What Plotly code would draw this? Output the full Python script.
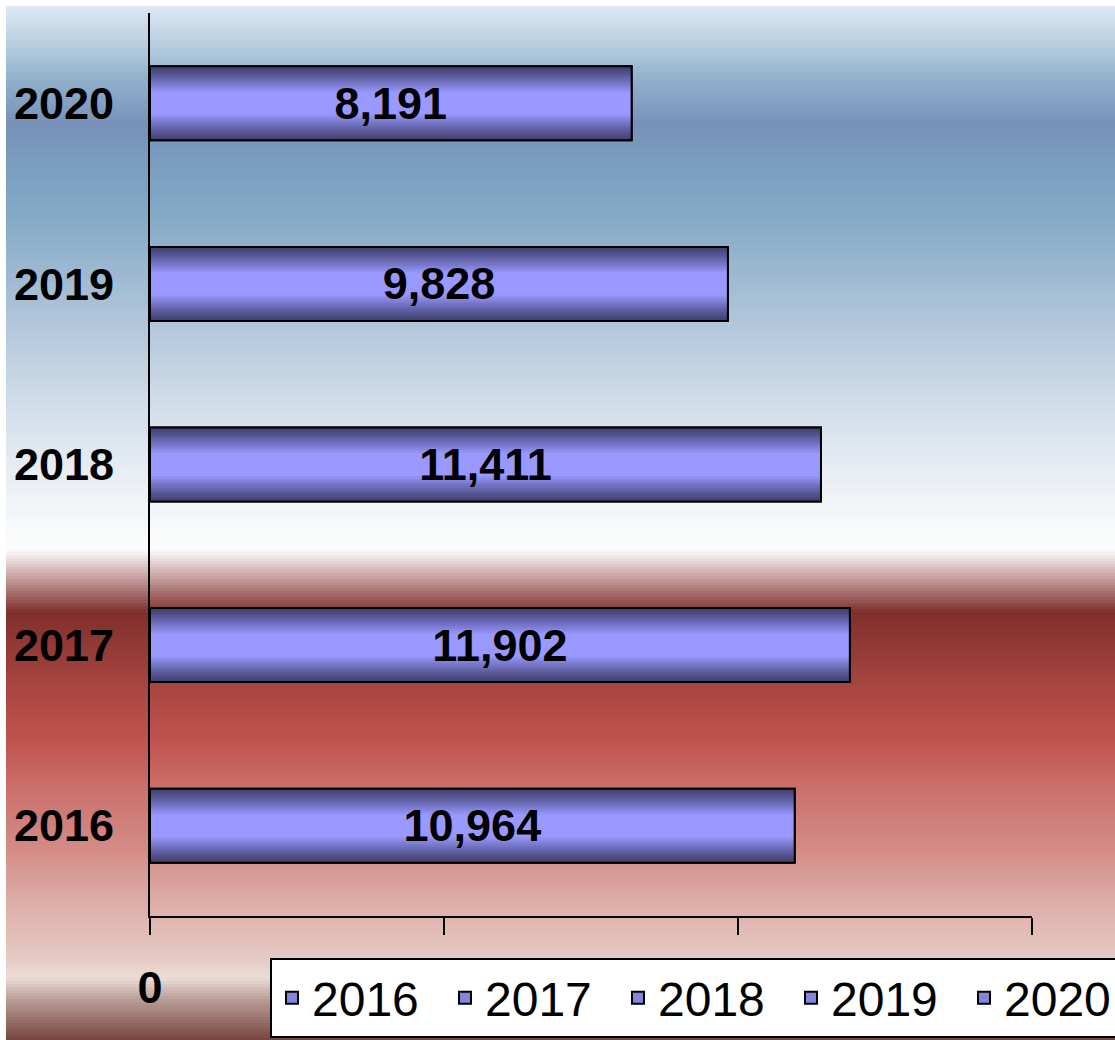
import plotly.graph_objects as go

# ---- data ----
categories = ["2016", "2017", "2018", "2019", "2020"]
values = [10964, 11902, 11411, 9828, 8191]
x_tick_values = [0, 5000, 10000, 15000]
x_tick_labels = ["0", "", "", ""]   # other labels are hidden behind the legend in the original

# ---- geometry / style ----
W, H = 1115, 1040
PLOT_L, PLOT_R, PLOT_T, PLOT_B = 150, 1032, 13, 916  # screenshot pixels (body margin removed)
ML, MT = PLOT_L, PLOT_T
MR, MB = W - PLOT_R, H - PLOT_B
PW, PH = PLOT_R - PLOT_L, PLOT_B - PLOT_T
FONT = "Liberation Sans, Arial, sans-serif"
BAR_W = 0.41
N_LAYERS = 16
DARK = (66, 66, 116)
LIGHT = (153, 153, 255)


def px_to_paper_x(px):
    return (px - PLOT_L) / PW


def px_to_paper_y(py):
    return (PLOT_B - py) / PH


def hex_rgb(h):
    h = h.lstrip("#")
    return tuple(int(h[i:i + 2], 16) for i in (0, 2, 4))


def mix(c1, c2, t):
    return tuple(round(a + (b - a) * t) for a, b in zip(c1, c2))


def rgb_str(c):
    return "rgb(%d,%d,%d)" % c


# background gradient stops (screenshot pixel y, colour) -- styling only
bg_stops = [
    (6, "#dde9f5"), (40, "#bcd1e2"), (80, "#90b0cb"), (125, "#7790b8"),
    (165, "#7b9ebf"), (210, "#82a8c4"), (270, "#9bb8d0"), (330, "#b4c8dc"),
    (400, "#cfdce8"), (470, "#e8edf4"), (548, "#fcfdfd"), (554, "#f6eeee"),
    (612, "#7f2f2c"), (680, "#a4443f"), (740, "#c0524e"), (790, "#cb716d"),
    (850, "#d48c87"), (900, "#dcaca6"), (960, "#e6cbc5"), (978, "#ecdcd6"),
    (1000, "#b89c95"), (1040, "#764640"),
]


def bg_color(py):
    for (y0, c0), (y1, c1) in zip(bg_stops[:-1], bg_stops[1:]):
        if y0 <= py <= y1:
            t = (py - y0) / (y1 - y0) if y1 > y0 else 0
            return mix(hex_rgb(c0), hex_rgb(c1), t)
    return hex_rgb(bg_stops[-1][1])


shapes = []
step = 3
py = 6
while py < H + 8:
    c = bg_color(py + step / 2)
    shapes.append(dict(
        type="rect", xref="paper", yref="paper", layer="below",
        x0=px_to_paper_x(6), x1=px_to_paper_x(W + 20),
        y0=px_to_paper_y(py + step + 0.6), y1=px_to_paper_y(py),
        fillcolor=rgb_str(c), line=dict(width=0),
    ))
    py += step

fig = go.Figure()

# legend-bearing base bars (one per year)
for cat, val in zip(categories, values):
    fig.add_trace(go.Bar(
        y=[cat], x=[val], orientation="h", name=cat, width=BAR_W,
        marker=dict(color="#8585e0", line=dict(color="black", width=2)),
        hoverinfo="skip", legendgroup=cat,
    ))

# gradient layers (same data, narrower and lighter towards the centre)
for k in range(N_LAYERS):
    t = min(1.0, k / (N_LAYERS * 0.68))
    t = t ** 1.15
    fig.add_trace(go.Bar(
        y=categories, x=values, orientation="h", width=BAR_W * (1 - k / N_LAYERS),
        marker=dict(color=rgb_str(mix(DARK, LIGHT, t)), line=dict(width=0)),
        showlegend=False, hoverinfo="skip",
    ))

# outline + data labels
fig.add_trace(go.Bar(
    y=categories, x=values, orientation="h", width=BAR_W,
    marker=dict(color="rgba(0,0,0,0)", line=dict(color="black", width=2)),
    text=[f"{v:,}" for v in values], textposition="inside",
    insidetextanchor="middle", constraintext="none",
    textfont=dict(family=FONT, size=45, color="black", weight="bold"),
    showlegend=False, hoverinfo="skip",
))

fig.update_layout(
    width=W, height=H,
    margin=dict(l=ML, r=MR, t=MT, b=MB, autoexpand=False),
    paper_bgcolor="white", plot_bgcolor="rgba(0,0,0,0)",
    barmode="overlay",
    shapes=shapes,
    font=dict(family=FONT, color="black"),
    xaxis=dict(
        range=[0, 15000], showgrid=False, zeroline=False,
        showline=True, linecolor="black", linewidth=2,
        ticks="outside", ticklen=17, tickwidth=2, tickcolor="black",
        tickvals=x_tick_values, ticktext=x_tick_labels,
        tickfont=dict(family=FONT, size=45, color="black", weight="bold"),
        ticklabelstandoff=14,
    ),
    yaxis=dict(
        type="category", categoryorder="array", categoryarray=categories,
        showgrid=False, zeroline=False,
        showline=True, linecolor="black", linewidth=2, ticks="",
        tickfont=dict(family=FONT, size=45, color="black", weight="bold"),
        ticklabelstandoff=25,
    ),
    legend=dict(
        orientation="h", x=px_to_paper_x(270), xanchor="left",
        y=px_to_paper_y(958), yanchor="top",
        bgcolor="white", bordercolor="black", borderwidth=2,
        font=dict(family=FONT, size=48, color="black"),
        entrywidth=128, traceorder="normal",
    ),
    showlegend=True,
)

fig.write_html(
    "out.html",
    config={"displayModeBar": False},
    post_script="document.body.style.margin='0px';document.body.style.overflow='hidden';",
)
